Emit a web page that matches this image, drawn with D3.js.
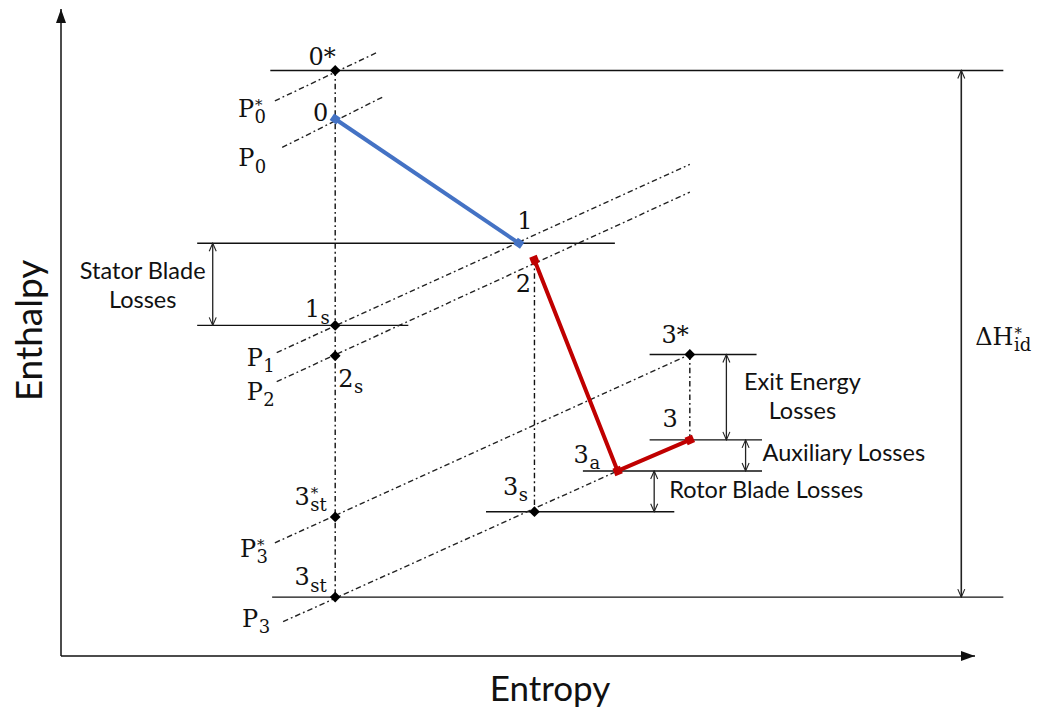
<!DOCTYPE html>
<html>
<head>
<meta charset="utf-8">
<script src="https://cdn.jsdelivr.net/npm/d3@7"></script>
<style>
  body { margin: 0; background: #fff; }
  svg { display: block; }
</style>
</head>
<body>
<svg id="chart" width="1037" height="713"></svg>
<script>
// ---- Stage states on the enthalpy–entropy plane (arbitrary units) ----
const stateNames    = ["0*", "0", "1", "2", "1s", "2s", "3*", "3", "3a", "3s", "3st*", "3st"];
const stateEntropy  = [3.00, 3.00, 5.01, 5.18, 3.00, 3.00, 6.88, 6.88, 6.09, 5.18, 3.00, 3.00];
const stateEnthalpy = [9.05, 8.30, 6.38, 6.12, 5.11, 4.64, 4.66, 3.34, 2.86, 2.23, 2.15, 0.91];

// Expansion paths through the stator and the rotor
const statorPath = ["0", "1"];
const rotorPath  = ["2", "3a", "3"];

// Ideal (isentropic) reference states drawn as black diamonds
const idealStates = ["0*", "1s", "2s", "3*", "3s", "3st*", "3st"];

// Isobars: entropy and enthalpy at both ends
const isobarNames    = ["P0*", "P0", "P1", "P2", "P3*", "P3"];
const isobarEntropy  = [[2.34, 3.46], [2.42, 3.52], [2.36, 6.88], [2.36, 6.88], [2.34, 6.88], [2.43, 6.09]];
const isobarEnthalpy = [[8.58, 9.33], [7.86, 8.64], [4.69, 7.60], [4.24, 7.17], [1.75, 4.66], [0.53, 2.86]];

// Constant-enthalpy reference lines
const levelEnthalpy = [9.05, 6.38, 5.11, 4.66, 3.34, 2.86, 2.23, 0.91];
const levelEntropy  = [[2.29, 10.31], [1.49, 6.06], [1.49, 3.80], [6.44, 7.61],
                       [6.44, 7.67], [5.71, 7.67], [4.65, 6.71], [2.31, 10.31]];

// Constant-entropy connectors between states
const verticals = [["0*", "3st"], ["2", "3s"], ["3*", "3"]];

// Loss spans (double-headed dimension arrows)
const spanNames    = ["Stator Blade Losses", "ΔH*id", "Exit Energy Losses", "Auxiliary Losses", "Rotor Blade Losses"];
const spanEntropy  = [1.66, 9.85, 7.28, 7.49, 6.49];
const spanEnthalpy = [[6.38, 5.11], [9.05, 0.91], [4.66, 3.34], [3.34, 2.86], [2.86, 2.23]];

// ---- Layout ----
const x = d3.scaleLinear().domain([0, 10]).range([61, 975]);
const y = d3.scaleLinear().domain([0, 10]).range([656, 9]);

const SERIF = "'DejaVu Serif', serif";
const SANS = "Lato, 'Open Sans', sans-serif";
const mathSize = 24;
const noteSize = 23.5;

// label offsets (px) from the state or isobar start they belong to
const stateLabelLayout = {
  "0*":   { dx: -13, dy: -5,  anchor: "middle" },
  "0":    { dx: -7,  dy: 2,   anchor: "end" },
  "1":    { dx: 6,   dy: -14, anchor: "middle" },
  "2":    { dx: -11, dy: 32,  anchor: "middle" },
  "1s":   { dx: -6,  dy: -8,  anchor: "end" },
  "2s":   { dx: 3,   dy: 31,  anchor: "start" },
  "3*":   { dx: -1,  dy: -11, anchor: "end" },
  "3":    { dx: -12, dy: -13, anchor: "end" },
  "3a":   { dx: -18, dy: -8,  anchor: "end" },
  "3s":   { dx: -7,  dy: -17, anchor: "end" },
  "3st*": { dx: -9,  dy: -12, anchor: "end" },
  "3st":  { dx: -9,  dy: -12, anchor: "end" }
};
const isobarLabelLayout = {
  "P0*": { dx: -37, dy: 16 },
  "P0":  { dx: -44, dy: 19 },
  "P1":  { dx: -30, dy: 13 },
  "P2":  { dx: -30, dy: 18 },
  "P3*": { dx: -35, dy: 14 },
  "P3":  { dx: -41, dy: 5 }
};
// text blocks beside each dimension arrow
const spanTextLayout = [
  { lines: ["Stator Blade", "Losses"], dx: -70, y0: 279, anchor: "middle" },
  { math: true, dx: 14, y0: 345, anchor: "start" },
  { lines: ["Exit Energy", "Losses"], dx: 76, y0: 390, anchor: "middle" },
  { lines: ["Auxiliary Losses"], dx: 17, y0: 461, anchor: "start" },
  { lines: ["Rotor Blade Losses"], dx: 15, y0: 498, anchor: "start" }
];

const svg = d3.select("#chart");
const state = {};
stateNames.forEach((n, i) => { state[n] = { s: stateEntropy[i], h: stateEnthalpy[i] }; });

// ---- Markers ----
const defs = svg.append("defs");
defs.append("marker")
  .attr("id", "axisHead").attr("viewBox", "0 -6 14 12")
  .attr("refX", 14).attr("refY", 0)
  .attr("markerUnits", "userSpaceOnUse")
  .attr("markerWidth", 14).attr("markerHeight", 12)
  .attr("orient", "auto")
  .append("path").attr("d", "M0,-5L14,0L0,5Z").attr("fill", "#111");
defs.append("marker")
  .attr("id", "dimHead").attr("viewBox", "-1 -5 10 10")
  .attr("refX", 8).attr("refY", 0)
  .attr("markerUnits", "userSpaceOnUse")
  .attr("markerWidth", 10).attr("markerHeight", 10)
  .attr("orient", "auto-start-reverse")
  .append("path").attr("d", "M0,-3.5L8,0L0,3.5")
  .attr("fill", "none").attr("stroke", "#222").attr("stroke-width", 1.1);

// ---- Axes ----
const axes = svg.append("g").attr("stroke", "#111").attr("stroke-width", 1.5).attr("fill", "none");
axes.append("line")
  .attr("x1", x(0)).attr("y1", y(0)).attr("x2", x(0)).attr("y2", y(10))
  .attr("marker-end", "url(#axisHead)");
axes.append("line")
  .attr("x1", x(0)).attr("y1", y(0)).attr("x2", x(10)).attr("y2", y(0))
  .attr("marker-end", "url(#axisHead)");

svg.append("text")
  .attr("transform", `translate(42,${y(5.03)}) rotate(-90)`)
  .attr("text-anchor", "middle")
  .attr("font-family", SANS).attr("font-size", 37).attr("fill", "#111")
  .text("Enthalpy");
svg.append("text")
  .attr("x", x(5.35)).attr("y", 701)
  .attr("text-anchor", "middle")
  .attr("font-family", SANS).attr("font-size", 35).attr("fill", "#111")
  .text("Entropy");

// ---- Constant-enthalpy lines ----
svg.append("g").selectAll("line")
  .data(levelEnthalpy.map((h, i) => ({ h, s: levelEntropy[i] })))
  .join("line")
  .attr("x1", d => x(d.s[0])).attr("x2", d => x(d.s[1]))
  .attr("y1", d => y(d.h)).attr("y2", d => y(d.h))
  .attr("stroke", "#111").attr("stroke-width", 1.4);

// ---- Isobars ----
const dashDot = "5.5,3,1.8,3";
svg.append("g").selectAll("line")
  .data(isobarNames.map((n, i) => ({ n, s: isobarEntropy[i], h: isobarEnthalpy[i] })))
  .join("line")
  .attr("x1", d => x(d.s[0])).attr("y1", d => y(d.h[0]))
  .attr("x2", d => x(d.s[1])).attr("y2", d => y(d.h[1]))
  .attr("stroke", "#222").attr("stroke-width", 1.4)
  .attr("stroke-dasharray", dashDot);

// ---- Constant-entropy connectors ----
svg.append("g").selectAll("line")
  .data(verticals)
  .join("line")
  .attr("x1", d => x(state[d[0]].s)).attr("x2", d => x(state[d[1]].s))
  .attr("y1", d => y(state[d[0]].h)).attr("y2", d => y(state[d[1]].h))
  .attr("stroke", "#111").attr("stroke-width", 1.4)
  .attr("stroke-dasharray", dashDot);

// ---- Dimension arrows ----
svg.append("g").selectAll("line")
  .data(spanNames.map((n, i) => ({ n, s: spanEntropy[i], h: spanEnthalpy[i] })))
  .join("line")
  .attr("x1", d => x(d.s)).attr("x2", d => x(d.s))
  .attr("y1", d => y(d.h[0])).attr("y2", d => y(d.h[1]))
  .attr("stroke", "#222").attr("stroke-width", d => d.n.startsWith("Δ") ? 1.6 : 1.3)
  .attr("marker-start", "url(#dimHead)").attr("marker-end", "url(#dimHead)");

// ---- Process lines ----
const line = d3.line().x(d => x(state[d].s)).y(d => y(state[d].h));
const paths = [
  { pts: statorPath, color: "#4472C4" },
  { pts: rotorPath, color: "#C00000" }
];
svg.append("g").selectAll("path")
  .data(paths)
  .join("path")
  .attr("d", d => line(d.pts))
  .attr("fill", "none").attr("stroke", d => d.color)
  .attr("stroke-width", 4).attr("stroke-linejoin", "round");

// square end markers on the process lines, aligned with their segment
const sq = d3.symbol(d3.symbolSquare, 64)();
paths.forEach(p => {
  p.pts.forEach((n, i) => {
    const a = state[p.pts[Math.max(0, i - 1)]], b = state[p.pts[Math.min(p.pts.length - 1, Math.max(1, i))]];
    const ang = Math.atan2(y(b.h) - y(a.h), x(b.s) - x(a.s)) * 180 / Math.PI;
    svg.append("path").attr("d", sq)
      .attr("transform", `translate(${x(state[n].s)},${y(state[n].h)}) rotate(${ang})`)
      .attr("fill", p.color);
  });
});

// black diamonds at the ideal states
svg.append("g").selectAll("path")
  .data(idealStates)
  .join("path")
  .attr("d", d3.symbol(d3.symbolSquare, 58)())
  .attr("transform", d => `translate(${x(state[d].s)},${y(state[d].h)}) rotate(45)`)
  .attr("fill", "#000");

// ---- Math-style labels with sub/superscripts (single text element) ----
function parseLabel(name) {
  let rest = name.slice(1);
  const star = rest.endsWith("*");
  if (star) rest = rest.slice(0, -1);
  if (rest === "") return { main: name, sub: "", sup: "" };
  return { main: name[0], sub: rest, sup: star ? "*" : "" };
}
function mathLabel(parts, px, py, anchor, size) {
  const t = svg.append("text").attr("font-family", SERIF).attr("fill", "#111")
    .attr("font-size", size);
  const m = t.append("tspan").attr("x", 0).attr("y", 0).text(parts.main);
  const w = m.node().getComputedTextLength();
  let sw = 0;
  if (parts.sub) {
    const s = t.append("tspan").attr("x", w + 0.5).attr("y", size * 0.27)
      .attr("font-size", size * 0.75).text(parts.sub);
    sw = Math.max(sw, s.node().getComputedTextLength());
  }
  if (parts.sup) {
    const s = t.append("tspan").attr("x", w + 1).attr("y", -size * 0.3)
      .attr("font-size", size * 0.62).text(parts.sup);
    sw = Math.max(sw, s.node().getComputedTextLength());
  }
  const total = w + sw;
  const shift = anchor === "end" ? -total : anchor === "middle" ? -total / 2 : 0;
  t.attr("transform", `translate(${px + shift},${py})`);
}

stateNames.forEach(n => {
  const L = stateLabelLayout[n];
  mathLabel(parseLabel(n), x(state[n].s) + L.dx, y(state[n].h) + L.dy, L.anchor, mathSize);
});
isobarNames.forEach((n, i) => {
  const L = isobarLabelLayout[n];
  mathLabel(parseLabel(n), x(isobarEntropy[i][0]) + L.dx, y(isobarEnthalpy[i][0]) + L.dy, "start", mathSize);
});

// ---- Loss annotations ----
spanTextLayout.forEach((L, i) => {
  const px = x(spanEntropy[i]) + L.dx;
  if (L.math) {
    mathLabel({ main: "ΔH", sub: "id", sup: "*" }, px, L.y0, "start", mathSize);
    return;
  }
  const t = svg.append("text")
    .attr("font-family", SANS).attr("font-size", noteSize).attr("fill", "#111")
    .attr("text-anchor", L.anchor);
  L.lines.forEach((ln, k) => {
    t.append("tspan").attr("x", px).attr("y", L.y0 + k * 29).text(ln);
  });
});
</script>
</body>
</html>
